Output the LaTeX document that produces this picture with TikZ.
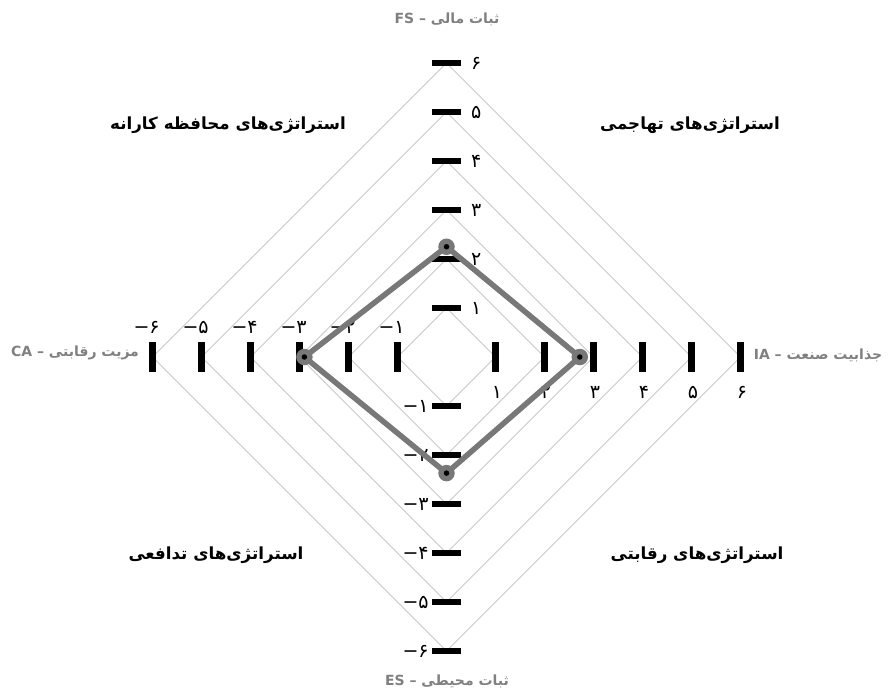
\documentclass[tikz,border=0pt]{standalone}
\usepackage{fontspec}
\newfontfamily\arabicfont[Script=Arabic]{DejaVu Sans}
\newfontfamily\numfont{DejaVu Sans}
\TeXXeTstate=1
\definecolor{gridgray}{HTML}{C8C8C8}
\definecolor{polygray}{HTML}{787878}
\definecolor{labelgray}{HTML}{808080}
\tikzset{
  gridline/.style={draw=gridgray, line width=0.9pt},
  tickbar/.style={fill=black},
  numlab/.style={font=\numfont\fontsize{19}{19}\selectfont, inner sep=0pt},
  axislab/.style={font=\arabicfont\bfseries\fontsize{14}{14}\selectfont, text=labelgray, inner sep=1pt},
  quadlab/.style={font=\arabicfont\bfseries\fontsize{16.7}{16.7}\selectfont, text=black, inner sep=1pt},
  polyline/.style={draw=polygray, line width=5.5pt, line join=round},
  marker/.style={circle, fill=polygray, minimum size=16.5pt, inner sep=0pt},
  markerdot/.style={circle, fill=black, minimum size=5.5pt, inner sep=0pt}
}
\begin{document}
\begin{tikzpicture}[x=1pt,y=-1pt]
\useasboundingbox (0,0) rectangle (890,693);
\begin{scope}[shift={(446.5,357)}, x=49pt, y=49pt]
  % diamonds
  \foreach \k in {1,...,6}
    \draw[gridline] (\k,0) -- (0,\k) -- (-\k,0) -- (0,-\k) -- cycle;
  % ticks
  \foreach \k in {-6,-5,-4,-3,-2,-1,1,2,3,4,5,6} {
    \fill[tickbar] (-0.3,\k-0.07) rectangle (0.3,\k+0.07);
    \fill[tickbar] (\k-0.071,-0.31) rectangle (\k+0.071,0.31);
  }
  % y-axis labels
  \foreach \k/\d in {1/۱,2/۲,3/۳,4/۴,5/۵,6/۶}
    \node[numlab, anchor=west] (yp\k) at (0.5,\k) {\d};
  \foreach \k/\d in {1/۱,2/۲,3/۳,4/۴,5/۵,6/۶}
    \node[numlab, anchor=east] (yn\k) at (-0.36,-\k) {−\d};
  % x-axis labels
  \foreach \k/\d in {1/۱,2/۲,3/۳,4/۴,5/۵,6/۶}
    \node[numlab] (xp\k) at (\k+0.03,-0.72) {\d};
  \foreach \k/\d in {1/۱,2/۲,3/۳,4/۴,5/۵,6/۶}
    \node[numlab, anchor=east] (xn\k) at (-\k+0.15,0.6) {−\d};
  % polygon
  \coordinate (pFS) at (0,2.25);
  \coordinate (pIA) at (2.72,0);
  \coordinate (pES) at (0,-2.37);
  \coordinate (pCA) at (-2.9,0);
  \draw[polyline] (pFS) -- (pIA) -- (pES) -- (pCA) -- cycle;
  \foreach \p in {FS,IA,ES,CA} {
    \node[marker] (m\p) at (p\p) {};
    \node[markerdot] (d\p) at (p\p) {};
  }
\end{scope}
% axis labels
\node[axislab] (lFS) at (447,19) {FS – \beginR ثبات مالی\endR};
\node[axislab] (lES) at (447,681) {ES – \beginR ثبات محیطی\endR};
\node[axislab] (lCA) at (75,353) {CA – \beginR مزیت رقابتی\endR};
\node[axislab] (lIA) at (818,355) {IA – \beginR جذابیت صنعت\endR};
% quadrant labels
\node[quadlab] (qTL) at (228,125) {\beginR استراتژی‌های محافظه کارانه\endR};
\node[quadlab] (qTR) at (690,125) {\beginR استراتژی‌های تهاجمی\endR};
\node[quadlab] (qBL) at (216,555) {\beginR استراتژی‌های تدافعی\endR};
\node[quadlab] (qBR) at (697,555) {\beginR استراتژی‌های رقابتی\endR};
\end{tikzpicture}
\end{document}
